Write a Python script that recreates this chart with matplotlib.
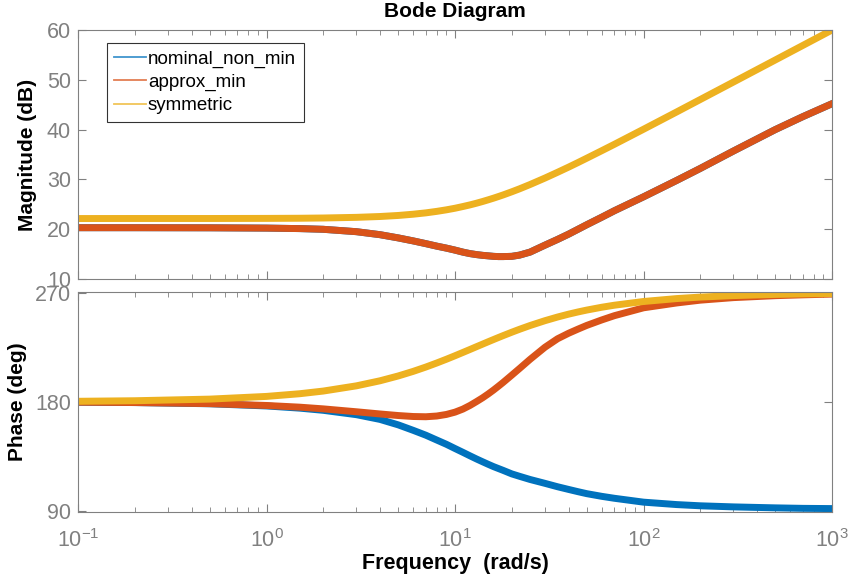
import matplotlib.pyplot as plt
import numpy as np

# frequency points (rad/s)
w = [0.1, 0.2, 0.5, 1, 1.5, 2, 3, 4, 5, 6, 7, 8,
     9, 10, 11, 12, 13, 14, 15, 16, 17, 18,
     20, 22, 25, 30, 35, 40, 45, 50, 60, 70,
     100, 150, 200, 300, 500, 700, 1000]

# magnitude in dB (nominal_non_min sits under approx_min)
mag_min = [20.3, 20.3, 20.28, 20.22, 20.12, 19.98, 19.5, 18.9, 18.25, 17.65, 17.1, 16.6,
           16.2, 15.8, 15.4, 15.1, 14.9, 14.75, 14.65, 14.55, 14.5, 14.5,
           14.55, 14.8, 15.4, 16.8, 17.95, 19.0, 20.0, 20.9, 22.4, 23.7,
           26.5, 29.8, 32.2, 35.7, 40.0, 42.6, 45.2]
mag_nom = mag_min
mag_sym = [22.14, 22.15, 22.15, 22.17, 22.20, 22.25, 22.38, 22.55, 22.76, 23.01, 23.28, 23.58,
           23.89, 24.21, 24.55, 24.88, 25.22, 25.56, 25.90, 26.23, 26.56, 26.88,
           27.51, 28.11, 28.97, 30.27, 31.43, 32.46, 33.40, 34.26, 35.76, 37.04,
           40.07, 43.55, 46.04, 49.55, 53.98, 56.90, 60.0]

# phase in degrees
ph_nom = [179.7, 179.4, 178.4, 176.6, 174.8, 173.0, 169.4, 165.5, 161.0, 156.5, 152.5, 148.5,
          145.0, 141.5, 138.4, 135.5, 132.9, 130.6, 128.5, 126.6, 125.0, 123.5,
          120.6, 118.6, 116.0, 112.8, 110.0, 107.8, 105.9, 104.3, 102.1, 100.5,
          97.3, 95.3, 94.3, 93.4, 92.6, 92.2, 92.0]
ph_min = [179.7, 179.4, 178.5, 177.0, 175.6, 174.2, 171.8, 170.0, 168.7, 167.9, 167.7, 168.3,
          169.6, 171.5, 174.0, 177.0, 180.2, 183.3, 186.5, 189.7, 192.9, 196.0,
          202.0, 207.5, 215.0, 225.0, 232.0, 236.5, 240.0, 243.0, 247.5, 251.0,
          257.5, 261.5, 263.8, 265.9, 267.5, 268.2, 268.8]
ph_sym = [180.45, 180.9, 182.24, 184.47, 186.68, 188.88, 193.19, 197.35, 201.34, 205.11, 208.67, 212.01,
          215.11, 218.0, 220.68, 223.15, 225.45, 227.56, 229.53, 231.34, 233.02, 234.58,
          237.38, 239.81, 242.89, 246.89, 249.91, 252.26, 254.12, 255.64, 257.96, 259.64,
          262.71, 265.12, 266.34, 267.56, 268.53, 268.95, 269.27]

names = ["nominal_non_min", "approx_min", "symmetric"]
colors = ["#0072BD", "#D95319", "#EDB120"]

plt.rcParams['font.family'] = ['Liberation Sans', 'DejaVu Sans']
gray = "#808080"

fig = plt.figure(figsize=(8.51, 5.87), dpi=100)
ax1 = fig.add_axes([0.0917, 0.5247, 0.886, 0.4242])
ax2 = fig.add_axes([0.0917, 0.1278, 0.886, 0.3753])

for m, p, c, n in zip([mag_nom, mag_min, mag_sym], [ph_nom, ph_min, ph_sym], colors, names):
    ax1.plot(w, m, color=c, lw=5, solid_joinstyle='round', label=n)
    ax2.plot(w, p, color=c, lw=5, solid_joinstyle='round')

for ax in (ax1, ax2):
    ax.set_xscale('log')
    ax.set_xlim(0.1, 1000)
    ax.tick_params(which='both', direction='in', top=True, right=True,
                   colors=gray, labelsize=15.5, labelcolor=gray)
    ax.tick_params(which='major', length=6)
    ax.tick_params(which='minor', length=3.5)
    ax.tick_params(axis='y', pad=5)
    for s in ax.spines.values():
        s.set_color(gray)

ax1.set_ylim(10, 60)
ax1.set_yticks([10, 20, 30, 40, 50, 60])
ax1.tick_params(axis='x', labelbottom=False)
ax1.set_ylabel("Magnitude (dB)", fontsize=15, fontweight='bold')
ax1.yaxis.set_label_coords(-0.054, 0.5)
ax1.set_title("Bode Diagram", fontsize=15, fontweight='bold', pad=9)

ax2.set_ylim(89.2, 270.8)
ax2.set_yticks([90, 180, 270])
ax2.set_ylabel("Phase (deg)", fontsize=15, fontweight='bold')
ax2.yaxis.set_label_coords(-0.068, 0.5)
ax2.set_xlabel("Frequency  (rad/s)", fontsize=15.5, fontweight='bold', labelpad=1)
ax2.tick_params(axis='x', which='major', pad=12)

leg = ax1.legend(loc='upper left', bbox_to_anchor=(0.038, 0.948), fontsize=13.5,
                 frameon=True, fancybox=False, borderaxespad=0, handlelength=1.7,
                 handletextpad=0.1, borderpad=0.4, labelspacing=0.32)
leg.get_frame().set_edgecolor('black')
leg.get_frame().set_linewidth(0.8)
for line in leg.get_lines():
    line.set_linewidth(1.3)
    line.set_alpha(0.75)

fig.savefig("out.png", dpi=100)
